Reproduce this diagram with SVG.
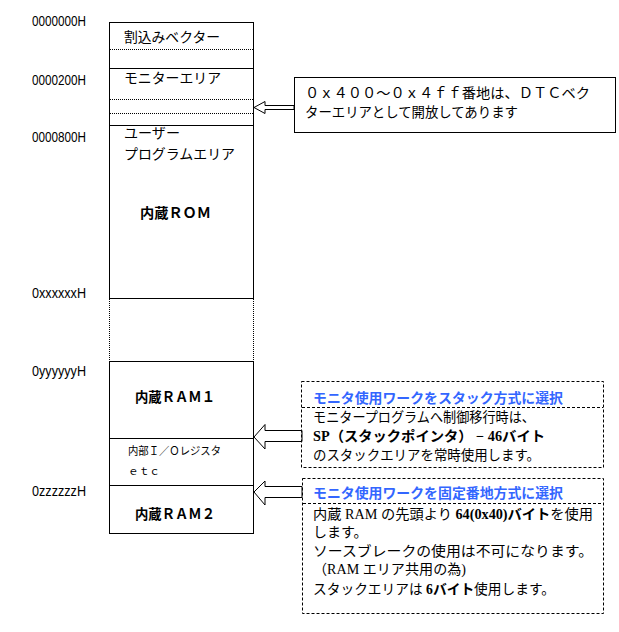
<svg xmlns="http://www.w3.org/2000/svg" width="619" height="632" viewBox="0 0 619 632">
<style>
.bg{fill:#fff}
.s{fill:none;stroke:#000;stroke-width:1}
.dot{fill:none;stroke:#000;stroke-width:1;stroke-dasharray:1 1}
.dash{fill:none;stroke:#000;stroke-width:1;stroke-dasharray:3 2}
.addr{font-family:"Liberation Sans",sans-serif;font-size:15px;fill:#000}
.jp{font-family:"Noto Sans CJK JP",sans-serif;font-size:14px;fill:#000}
.jb{font-family:"Liberation Serif","Noto Sans CJK JP",serif;font-size:14px;font-weight:bold;fill:#000}
.mx{font-family:"Liberation Serif","Noto Sans CJK JP",serif;font-size:14px;fill:#000}
.ti{font-family:"Noto Sans CJK JP",sans-serif;font-size:13.5px;font-weight:bold;fill:#3366ff}
.sm{font-family:"Noto Sans CJK JP",sans-serif;font-size:11px;fill:#000}
.arr{fill:#fff;stroke:#000;stroke-width:1}
</style>
<rect class="bg" x="0" y="0" width="619" height="632"/>
<g id="addresses">
<text class="addr" x="32" y="26" textLength="54" lengthAdjust="spacingAndGlyphs">0000000H</text>
<text class="addr" x="32" y="85" textLength="54" lengthAdjust="spacingAndGlyphs">0000200H</text>
<text class="addr" x="32" y="142" textLength="54" lengthAdjust="spacingAndGlyphs">0000800H</text>
<text class="addr" x="32" y="298" textLength="54" lengthAdjust="spacingAndGlyphs">0xxxxxxH</text>
<text class="addr" x="32" y="376" textLength="54" lengthAdjust="spacingAndGlyphs">0yyyyyyH</text>
<text class="addr" x="32" y="496" textLength="54" lengthAdjust="spacingAndGlyphs">0zzzzzzH</text>
</g>
<g id="rom">
<rect class="s" x="109.5" y="22.5" width="144" height="276"/>
<line class="dot" x1="110" y1="49.5" x2="253" y2="49.5"/>
<line class="s" x1="110" y1="68.5" x2="253" y2="68.5"/>
<line class="dot" x1="110" y1="99.5" x2="253" y2="99.5"/>
<line class="dot" x1="110" y1="113.5" x2="253" y2="113.5"/>
<line class="s" x1="110" y1="125.5" x2="253" y2="125.5"/>
<text class="jp" x="124" y="42" textLength="96" lengthAdjust="spacingAndGlyphs">割込みベクター</text>
<text class="jp" x="124" y="83" textLength="97" lengthAdjust="spacingAndGlyphs">モニターエリア</text>
<text class="jp" x="124" y="138" textLength="56" lengthAdjust="spacingAndGlyphs">ユーザー</text>
<text class="jp" x="124" y="159" textLength="111" lengthAdjust="spacingAndGlyphs">プログラムエリア</text>
<text class="jb" x="140" y="218" textLength="71" lengthAdjust="spacingAndGlyphs">内蔵ＲＯＭ</text>
</g>
<g id="gap">
<line class="dot" x1="109.5" y1="299" x2="109.5" y2="361"/>
<line class="dot" x1="253.5" y1="299" x2="253.5" y2="361"/>
</g>
<g id="ram">
<rect class="s" x="109.5" y="361.5" width="144" height="172"/>
<line class="s" x1="110" y1="438.5" x2="253" y2="438.5"/>
<line class="s" x1="110" y1="485.5" x2="253" y2="485.5"/>
<text class="jb" x="135" y="402" textLength="80" lengthAdjust="spacingAndGlyphs">内蔵ＲＡＭ１</text>
<text class="sm" x="128" y="455" textLength="93" lengthAdjust="spacingAndGlyphs">内部Ｉ／Ｏレジスタ</text>
<text class="sm" x="128" y="475" textLength="32" lengthAdjust="spacingAndGlyphs">ｅｔｃ</text>
<text class="jb" x="135" y="519" textLength="80" lengthAdjust="spacingAndGlyphs">内蔵ＲＡＭ２</text>
</g>
<g id="connectors">
<polygon class="arr" points="254,107.5 265,101.5 265,105.5 294,105.5 294,109.5 265,109.5 265,113.5"/>
<polygon class="arr" points="254,437 265,424.5 265,430.5 302,430.5 302,441.5 265,441.5 265,449"/>
<polygon class="arr" points="254,492 265,481 265,486.5 302,486.5 302,497.5 265,497.5 265,505"/>
</g>
<g id="note-dtc">
<rect class="s" x="294.5" y="77.5" width="321" height="55"/>
<text class="jp" x="305" y="97.5" textLength="285" lengthAdjust="spacingAndGlyphs">０ｘ４００～０ｘ４ｆｆ番地は、ＤＴＣベク</text>
<text class="jp" x="305" y="117" textLength="213" lengthAdjust="spacingAndGlyphs">ターエリアとして開放してあります</text>
</g>
<g id="note-stack">
<rect class="dash" x="301.5" y="381.5" width="302" height="86"/>
<line class="dash" x1="302" y1="407.5" x2="603" y2="407.5"/>
<text class="ti" x="313" y="403" textLength="250" lengthAdjust="spacingAndGlyphs">モニタ使用ワークをスタック方式に選択</text>
<text class="jp" x="313" y="422" textLength="222" lengthAdjust="spacingAndGlyphs">モニタープログラムへ制御移行時は、</text>
<text class="jb" x="313" y="441" textLength="232" lengthAdjust="spacingAndGlyphs">SP（スタックポインタ） − 46バイト</text>
<text class="jp" x="313" y="460" textLength="227" lengthAdjust="spacingAndGlyphs">のスタックエリアを常時使用します。</text>
</g>
<g id="note-fixed">
<rect class="dash" x="302.5" y="478.5" width="301" height="135"/>
<line class="dash" x1="303" y1="503.5" x2="603" y2="503.5"/>
<text class="ti" x="313" y="498" textLength="250" lengthAdjust="spacingAndGlyphs">モニタ使用ワークを固定番地方式に選択</text>
<text class="mx" x="313" y="518.5" textLength="280" lengthAdjust="spacingAndGlyphs">内蔵 RAM の先頭より <tspan font-weight="bold">64(0x40)バイト</tspan>を使用</text>
<text class="jp" x="313" y="537">します。</text>
<text class="jp" x="313" y="555.5" textLength="280" lengthAdjust="spacingAndGlyphs">ソースブレークの使用は不可になります。</text>
<text class="mx" x="313" y="573.5" textLength="153" lengthAdjust="spacingAndGlyphs">（RAM エリア共用の為)</text>
<text class="mx" x="313" y="593.5" textLength="242" lengthAdjust="spacingAndGlyphs">スタックエリアは <tspan font-weight="bold">6バイト</tspan>使用します。</text>
</g>
</svg>
